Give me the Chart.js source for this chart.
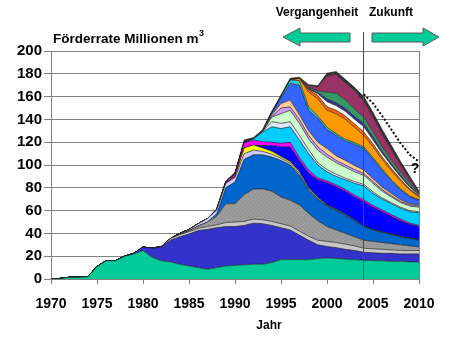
<!DOCTYPE html>
<html>
<head>
<meta charset="utf-8">
<script src="https://cdn.jsdelivr.net/npm/chart.js@4.4.1/dist/chart.umd.min.js"></script>
<style>
  html, body { margin: 0; padding: 0; background: #fff; }
  canvas { display: block; }
</style>
</head>
<body>
<canvas id="chart" width="450" height="337"></canvas>
<script>
// Jahre 1970 .. 2010
var years = [1970,1971,1972,1973,1974,1975,1976,1977,1978,1979,
             1980,1981,1982,1983,1984,1985,1986,1987,1988,1989,
             1990,1991,1992,1993,1994,1995,1996,1997,1998,1999,
             2000,2001,2002,2003,2004,2005,2006,2007,2008,2009,2010]
var tickYears = [1970,1975,1980,1985,1990,1995,2000,2005,2010]
var splitYear = 2004

// Förderrate je Feld (Millionen m3), von unten nach oben gestapelt
var teal        = [0,0.5,1.5,1.5,2,11,16,16,20,22,25,19,16,15,13,11.5,10,8.5,10,11.5,12,12.5,13,13,14.5,17,17,17,17,18,18.5,18,17.5,17,16.5,16,16,15.5,15.5,15,15]
var darkBlue    = [0,0,0,0,0,0,0,0,0,0.5,3,8,12,19,24,28,32.5,35,35,34.5,34,34.5,36,35.5,32.5,28,26,21.5,17,12,10,9.5,8.5,8,7,7,6.5,7,6.5,7,7]
var lightGray   = [0,0,0,0,0,0,0,0,0,0,0,0,0.5,1.5,2,2,2,2.5,2.5,3.5,4,3.5,3.5,3.5,3.5,3.5,3.5,3.5,3.5,4,4.5,4.5,4.5,4,3.5,3.5,3.5,3,3,3,3]
var gray        = [0,0,0,0,0,0,0,0,0,0,0,0,0,0,0.5,1,2,4,7.5,16.5,16,23.5,26.5,27,26.5,23.5,22.5,23,20,17,13,11,9.5,8,7,6.5,6,5.5,5,4,3]
var medBlue     = [0,0,0,0,0,0,0,0,0,0,0,0,0,0,0,0,0,0,2,14,19,31,30,30,30,32,31,26,20.5,19,18,17,16,14,12,10,9,8,7,6.5,6]
var lavender    = [0,0,0,0,0,0,0,0,0,0,0,0,0,0,0.5,1,2,3,3.5,4,4,5,4,3,2.5,2,1.5,1.5,1,0.5,0.3,0.3,0.2,0.2,0.2,0.2,0.2,0.2,0.2,0.2,0.2]
var yellow      = [0,0,0,0,0,0,0,0,0,0,0,0,0,0,0,0,0,0,0,0,1,5,4.5,3,2.5,1.5,1.5,1.5,1,1,0.7,0.7,0.6,0.5,0.4,0.3,0.3,0.3,0.3,0.3,0.3]
var brightBlue  = [0,0,0,0,0,0,0,0,0,0,0,0,0,0,0,0,0,0,0,0,0,0,0,2,5,8.5,13,10,13,15.5,19.5,20,20.2,20.3,21.4,19.5,17.5,15.5,13.5,12,11.5]
var magenta     = [0,0,0,0,0,0,0,0,0,0,0,0,0,0,0,0,0,0,0,1,2,4.5,4.5,3.5,3,3,4,2.5,2.5,1.5,1.5,1.5,1.5,1.5,1.5,1.5,1.5,1.5,1.5,1,1]
var cyan        = [0,0,0,0,0,0,0,0,0,0,0,0,0,0,0,0,0,0,0,0,0,0.5,1,8.5,13.5,13,13.5,15.5,14.5,11.5,8,7.5,8.5,10.5,12,10.5,9.5,9.5,9.5,10,11]
var periwinkle  = [0,0,0,0,0,0,0,0,0,0,0,0,0,0,0,0,0,0,0,0,0,0,0,0.5,4.5,4.5,4.5,4,3.5,2,2,2,1.5,1.5,1.5,1.5,1,1,1,1,1]
var paleGreen   = [0,0,0,0,0,0,0,0,0,0,0,0,0,0,0,0,0,0,0,0,0,0,0,0,4,8.5,10,10.5,9.5,11,11,10,9.5,8.5,8,7.5,6,5,4,4,4]
var lightPurple = [0,0,0,0,0,0,0,0,0,0,0,0,0,0,0,0,0,0,0,0,0,0,0,0,0.5,5,3,3.5,3,3,2.5,2,2,2,1.7,1.5,1.5,1,1,1,1]
var peach       = [0,0,0,0,0,0,0,0,0,0,0,0,0,0,0,0,0,0,0,0,0,0,0,0,1.5,4,6,4,4,4,5,4,4,3.5,2.9,2.5,2,2,1.5,1,1]
var royalBlue   = [0,0,0,0,0,0,0,0,0,0,0,0,0,0,0,0,0,0,0,0,0,0,0,0,2,4.5,14.5,26,18,21,16.5,18,17,18.5,19,17,14.5,11,8.5,6,4]
var tealCyan    = [0,0,0,0,0,0,0,0,0,0,0,0,0,0,0,0,0,0,0,0,0,0,0,0,0,1.5,3,4,3,2,2,1.5,1.5,1.5,1.4,1.5,1.5,1,1,0.8,0.5]
var orange      = [0,0,0,0,0,0,0,0,0,0,0,0,0,0,0,0,0,0,0,0,0,0,0,0,0,0,0,2,13,15,15,17.5,17.5,13.5,10,9.5,8.5,8,7,5.2,2.5]
var redOrange   = [0,0,0,0,0,0,0,0,0,0,0,0,0,0,0,0,0,0,0,0,0,0,0,0,0,0,0,0,2,3,3,3,3,3,3,2.5,2,2,1.5,1,1]
var white       = [0,0,0,0,0,0,0,0,0,0,0,0,0,0,0,0,0,0,0,0,0,0,0,0,0,0,0,0,0.5,1.5,4.5,4,4,4,4.5,3.5,3,2.5,2,1.5,0.7]
var navy        = [0,0,0,0,0,0,0,0,0,0,0,0,0,0,0,0,0,0,0,0,0,0,0,0,0,0,0,0,0.5,1,2.5,2.5,2.5,2.5,3,2.5,2,1.5,1.5,1,0.5]
var darkGreen   = [0,0,0,0,0,0,0,0,0,0,0,0,0,0,0,0,0,0,0,0,0,0,0,0,0,0,0,0,1,1.5,6,8.5,7.5,6.5,5.5,4.5,4,3,3,2.5,0.8]
var maroon      = [0,0,0,0,0,0,0,0,0,0,0,0,0,0,0,0,0,0,0,0,0,0,0,0,0,0,0,0,1.5,3.5,14,16.5,15,16,14,13,11,9,6,3.5,1]
var darkTop     = [0,0,0,0,0,0,0,0,0,0,0,0,0,0,0,0,0,0,1,1,1.5,2,1,1.5,1,1.5,1.5,1,1,1,2.5,2.5,3,3,4,4,4,4,3,2.5,1]

// Prognose (gepunktet)
var forecast = [null,null,null,null,null,null,null,null,null,null,
                null,null,null,null,null,null,null,null,null,null,
                null,null,null,null,null,null,null,null,null,null,
                null,null,null,null,162,154,143,131,119,109,103]

var FONT = '"Liberation Sans", Arial, sans-serif'

// gepunktetes Grau
var pc = document.createElement('canvas')
pc.width = 4; pc.height = 4
var pctx = pc.getContext('2d')
pctx.fillStyle = '#9c9c9c'
pctx.fillRect(0, 0, 4, 4)
pctx.fillStyle = '#8a8a8a'
pctx.fillRect(0, 0, 1, 1)
pctx.fillRect(2, 2, 1, 1)
var grayPattern = pctx.createPattern(pc, 'repeat')

var layers = [
    [teal, '#00CC99'],
    [darkBlue, '#3333CC'],
    [lightGray, '#C8C8C8'],
    [gray, grayPattern],
    [medBlue, '#0066CC'],
    [lavender, '#CCCCFF'],
    [yellow, '#FFFF00'],
    [brightBlue, '#0000FF'],
    [magenta, '#FF00FF'],
    [cyan, '#00CCFF'],
    [periwinkle, '#DCE6FF'],
    [paleGreen, '#CCFFCC'],
    [lightPurple, '#CC99FF'],
    [peach, '#FFCC99'],
    [royalBlue, '#3366FF'],
    [tealCyan, '#33CCCC'],
    [orange, '#FF9900'],
    [redOrange, '#FF6600'],
    [white, '#FFFFFF'],
    [navy, '#333399'],
    [darkGreen, '#339966'],
    [maroon, '#993366'],
    [darkTop, '#333333']
]

var datasets = layers.map(function (l, i) {
    return {
        data: l[0],
        backgroundColor: l[1],
        borderColor: 'rgba(30,30,30,0.85)',
        borderWidth: 0.8,
        pointRadius: 0,
        fill: i === 0 ? 'origin' : '-1',
        stack: 'fields'
    }
})

datasets.push({
    data: forecast,
    stack: 'forecast',
    fill: false,
    borderColor: '#000',
    borderWidth: 2,
    borderDash: [2, 2],
    pointRadius: 0
})

var overlay = {
    id: 'overlay',
    afterDraw: function (chart) {
        var ctx = chart.ctx
        var area = chart.chartArea
        var x = chart.scales.x
        ctx.save()

        // Rahmen rechts
        ctx.strokeStyle = '#808080'
        ctx.lineWidth = 1
        ctx.beginPath()
        ctx.moveTo(area.right + 0.5, area.top)
        ctx.lineTo(area.right + 0.5, area.bottom)
        ctx.stroke()

        // Trennlinie Vergangenheit / Zukunft
        var sx = Math.round(x.getPixelForValue(years.indexOf(splitYear))) - 0.5
        ctx.strokeStyle = '#4a4a4a'
        ctx.beginPath()
        ctx.moveTo(sx, 32)
        ctx.lineTo(sx, area.bottom)
        ctx.stroke()

        // Pfeile
        ctx.fillStyle = '#00CC99'
        ctx.strokeStyle = '#5a5a5a'
        ctx.lineWidth = 1
        ctx.beginPath()
        ctx.moveTo(283, 37)
        ctx.lineTo(300, 28)
        ctx.lineTo(300, 33)
        ctx.lineTo(350, 33)
        ctx.lineTo(350, 42)
        ctx.lineTo(300, 42)
        ctx.lineTo(300, 46)
        ctx.closePath()
        ctx.fill()
        ctx.stroke()

        ctx.beginPath()
        ctx.moveTo(439, 37)
        ctx.lineTo(423, 28)
        ctx.lineTo(423, 33)
        ctx.lineTo(372, 33)
        ctx.lineTo(372, 42)
        ctx.lineTo(423, 42)
        ctx.lineTo(423, 46)
        ctx.closePath()
        ctx.fill()
        ctx.stroke()

        // Texte
        ctx.fillStyle = '#000'
        ctx.textBaseline = 'middle'
        ctx.font = 'bold 12px ' + FONT
        ctx.textAlign = 'center'
        ctx.fillText('Vergangenheit', 317, 13)
        ctx.fillText('Zukunft', 391, 13)
        ctx.fillText('Jahr', 269, 326)

        ctx.textAlign = 'left'
        ctx.font = 'bold 13.5px ' + FONT
        var t = 'Förderrate Millionen m'
        ctx.fillText(t, 53, 39)
        var tw = ctx.measureText(t).width
        ctx.font = 'bold 9px ' + FONT
        ctx.fillText('3', 53 + tw + 0.5, 34)

        ctx.textAlign = 'center'
        ctx.font = 'bold 14px ' + FONT
        ctx.fillText('?', 415, 169)
        ctx.restore()
    }
}

new Chart(document.getElementById('chart'), {
    type: 'line',
    data: {
        labels: years,
        datasets: datasets
    },
    options: {
        responsive: false,
        animation: false,
        devicePixelRatio: 1,
        layout: { padding: { top: 51, right: 31, left: 0, bottom: 0 } },
        plugins: {
            legend: { display: false },
            tooltip: { enabled: false }
        },
        elements: { line: { tension: 0 } },
        scales: {
            x: {
                type: 'category',
                afterFit: function (scale) { scale.height = 58 },
                grid: {
                    drawOnChartArea: false,
                    tickLength: 5,
                    color: function (c) {
                        return tickYears.indexOf(years[c.index]) >= 0 ? '#808080' : 'rgba(0,0,0,0)'
                    }
                },
                border: { color: '#808080' },
                ticks: {
                    autoSkip: false,
                    maxRotation: 0,
                    padding: 12,
                    color: '#000',
                    font: { family: FONT, size: 14, weight: 'bold' },
                    callback: function (v, i) {
                        return tickYears.indexOf(years[i]) >= 0 ? String(years[i]) : ''
                    }
                }
            },
            y: {
                stacked: true,
                min: 0,
                max: 200,
                afterFit: function (scale) { scale.width = 51 },
                grid: { color: '#808080', tickLength: 7 },
                border: { color: '#808080' },
                ticks: {
                    stepSize: 20,
                    padding: 2,
                    color: '#000',
                    font: { family: FONT, size: 15, weight: 'bold' }
                }
            }
        }
    },
    plugins: [overlay]
})
</script>
</body>
</html>
